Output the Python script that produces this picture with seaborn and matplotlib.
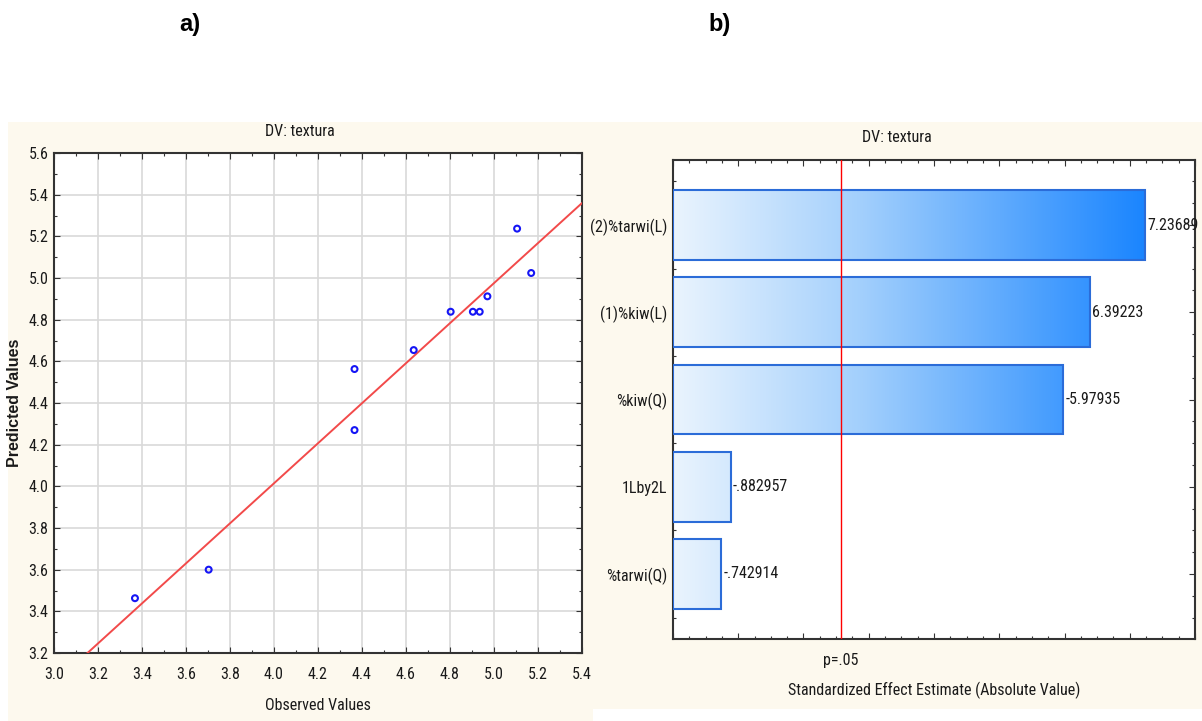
import numpy as np
import pandas as pd
import seaborn as sns
import matplotlib
matplotlib.use("Agg")
import matplotlib.pyplot as plt
from matplotlib import font_manager as fm
from matplotlib.ticker import MultipleLocator, FormatStrFormatter, NullFormatter
from matplotlib.colors import LinearSegmentedColormap
from matplotlib.patches import Rectangle

# ---- data -------------------------------------------------------------
observed = [3.368, 3.703, 4.366, 4.366, 4.635, 4.803, 4.904, 4.935, 4.970, 5.105, 5.169]
predicted = [3.463, 3.600, 4.563, 4.270, 4.654, 4.838, 4.838, 4.838, 4.912, 5.237, 5.024]

effect_names = ["(2)%tarwi(L)", "(1)%kiw(L)", "%kiw(Q)", "1Lby2L", "%tarwi(Q)"]
effect_values = [7.23689, 6.39223, -5.97935, -0.882957, -0.742914]
p_crit = 2.5706  # t(0.975, df=5)

x_ticks = [3.0, 3.2, 3.4, 3.6, 3.8, 4.0, 4.2, 4.4, 4.6, 4.8, 5.0, 5.2, 5.4]
y_ticks = [3.2, 3.4, 3.6, 3.8, 4.0, 4.2, 4.4, 4.6, 4.8, 5.0, 5.2, 5.4, 5.6]

# ---- style ------------------------------------------------------------
sns.set_theme(style="ticks")

# pick a narrow sans face when one is available
installed = {f.name for f in fm.fontManager.ttflist}
dejavu_cond = any(f.name == "DejaVu Sans" and str(f.stretch) in
                  ("condensed", "semi-condensed", "75", "87")
                  for f in fm.fontManager.ttflist)
STRETCH = "normal"
if "Liberation Sans Narrow" in installed:
    FAM, FS = "Liberation Sans Narrow", 11.5
elif "Arial Narrow" in installed:
    FAM, FS = "Arial Narrow", 11.5
elif "Roboto Condensed" in installed:
    FAM, FS = "Roboto Condensed", 11.5
elif dejavu_cond:
    FAM, FS, STRETCH = "DejaVu Sans", 9.5, "condensed"
else:
    FAM, FS = "Liberation Sans", 9.8

plt.rcParams["font.family"] = [FAM, "DejaVu Sans"]
plt.rcParams["font.stretch"] = STRETCH
INK = "#1a1a1a"
CREAM = "#FDF9EE"

W, H = 1202, 721
fig = plt.figure(figsize=(W / 100, H / 100), dpi=100)
fig.patch.set_facecolor("white")


def panel_bg(x0, y0, x1, y1):
    fig.add_artist(Rectangle((x0 / W, 1 - y1 / H), (x1 - x0) / W, (y1 - y0) / H,
                             transform=fig.transFigure, facecolor=CREAM,
                             edgecolor="none", zorder=-10))


def ftext(x, y, s, **kw):
    kw.setdefault("ha", "center")
    kw.setdefault("va", "center")
    kw.setdefault("color", INK)
    fig.text(x / W, 1 - y / H, s, **kw)


panel_bg(8, 122, 593, 721)
panel_bg(593, 122, 1202, 709)

# ---- a) observed vs predicted ----------------------------------------
ax1 = fig.add_axes([54 / W, 1 - 653 / H, 528 / W, 500 / H])
ax1.set_facecolor("white")
ax1.set_xlim(3.0, 5.4)
ax1.set_ylim(3.2, 5.6)
ax1.set_xticks(x_ticks)
ax1.set_yticks(y_ticks)
ax1.xaxis.set_minor_locator(MultipleLocator(0.1))
ax1.yaxis.set_minor_locator(MultipleLocator(0.1))
ax1.xaxis.set_major_formatter(FormatStrFormatter("%.1f"))
ax1.yaxis.set_major_formatter(FormatStrFormatter("%.1f"))
ax1.grid(True, which="major", color="#D9D9D9", lw=1.2)
ax1.set_axisbelow(True)

sns.regplot(x=observed, y=predicted, ax=ax1, ci=None, scatter=False,
            truncate=False, line_kws=dict(color="#F24A4A", lw=1.4, zorder=3))
sns.scatterplot(x=observed, y=predicted, ax=ax1, marker="o", s=18,
                zorder=5, legend=False)
pts = ax1.collections[-1]
pts.set_facecolor("none")
pts.set_edgecolor("#1515F5")
pts.set_linewidth(1.5)
ax1.set_xlim(3.0, 5.4)
ax1.set_ylim(3.2, 5.6)
ax1.set_xlabel("")
ax1.set_ylabel("")

ax1.tick_params(which="both", direction="in", top=True, right=True,
                color="#333333", width=0.8, labelcolor=INK, labelsize=FS)
ax1.tick_params(which="major", length=4)
ax1.tick_params(which="minor", length=2.5)
ax1.tick_params(axis="x", which="major", pad=10)
ax1.tick_params(axis="y", which="major", pad=4)
for sp in ax1.spines.values():
    sp.set_color("#333333")
    sp.set_linewidth(1.5)

ftext(300, 132, "DV: textura", fontsize=FS)
ftext(318, 706, "Observed Values", fontsize=FS)
ftext(15, 403, "Predicted Values", fontsize=11.5, fontweight="bold",
      rotation=90, family=["Liberation Sans", "DejaVu Sans"], stretch="normal")

# ---- b) Pareto chart of standardized effects --------------------------
ax2 = fig.add_axes([673 / W, 1 - 639 / H, 522 / W, 479 / H])
ax2.set_facecolor("white")
df = pd.DataFrame({"effect": effect_names,
                   "abs_t": np.abs(effect_values),
                   "t": effect_values})
ax2.yaxis.grid(True, color="#DADADA", lw=1.5)
ax2.set_axisbelow(True)
sns.barplot(data=df, x="abs_t", y="effect", orient="h", ax=ax2, width=0.8,
            color="#8CC4FD", edgecolor="#2B6CD8", linewidth=1.5, zorder=3)

xmax = 8.0
ylo, yhi = 4.745, -0.745
gmax = float(df["abs_t"].max())
cmap = LinearSegmentedColormap.from_list(
    "blues", [(0.0, "#EAF4FE"), (0.4, "#A2CFFC"), (1.0, "#1A85FF")])
grad = np.linspace(0, 1, 512).reshape(1, -1)
for patch in list(ax2.patches):
    y0 = patch.get_y()
    h = patch.get_height()
    im = ax2.imshow(grad, extent=(0, gmax, y0 + h, y0), cmap=cmap,
                    aspect="auto", interpolation="bilinear", zorder=2.9)
    im.set_clip_path(patch)
    patch.set_facecolor("none")

ax2.axvline(p_crit, color="#FF0000", lw=1.0, zorder=4)

for i, (a, t) in enumerate(zip(df["abs_t"], df["t"])):
    lab = f"{t:.6g}".replace("-0.", "-.")
    if lab.startswith("0."):
        lab = lab[1:]
    ax2.annotate(lab, xy=(a, i), xytext=(1.5, 0), textcoords="offset points",
                 ha="left", va="center", fontsize=FS, color=INK, zorder=5)

ax2.set_xlim(0, xmax)
ax2.set_ylim(ylo, yhi)
ax2.xaxis.set_major_locator(MultipleLocator(1))
ax2.xaxis.set_minor_locator(MultipleLocator(0.25))
ax2.xaxis.set_major_formatter(NullFormatter())
ax2.yaxis.set_minor_locator(MultipleLocator(0.25))
ax2.set_xlabel("")
ax2.set_ylabel("")
ax2.tick_params(which="both", direction="in", top=True, right=True,
                color="#333333", width=0.8, labelcolor=INK, labelsize=FS)
ax2.tick_params(which="major", length=4)
ax2.tick_params(which="minor", length=2.5)
ax2.tick_params(axis="y", which="major", pad=4)
for sp in ax2.spines.values():
    sp.set_color("#333333")
    sp.set_linewidth(1.5)

ax2.annotate("p=.05", xy=(p_crit, 0), xycoords=("data", "axes fraction"),
             xytext=(0, -10), textcoords="offset points", ha="center",
             va="top", fontsize=FS, color=INK)

ftext(897, 138, "DV: textura", fontsize=FS)
ftext(934, 690, "Standardized Effect Estimate (Absolute Value)", fontsize=FS)

# ---- panel letters ----------------------------------------------------
ftext(190, 24, "a)", fontsize=17, fontweight="bold",
      family=["Liberation Sans", "DejaVu Sans"], stretch="normal", color="black")
ftext(720, 24, "b)", fontsize=17, fontweight="bold",
      family=["Liberation Sans", "DejaVu Sans"], stretch="normal", color="black")

fig.savefig("out.png", dpi=100, facecolor="white")
